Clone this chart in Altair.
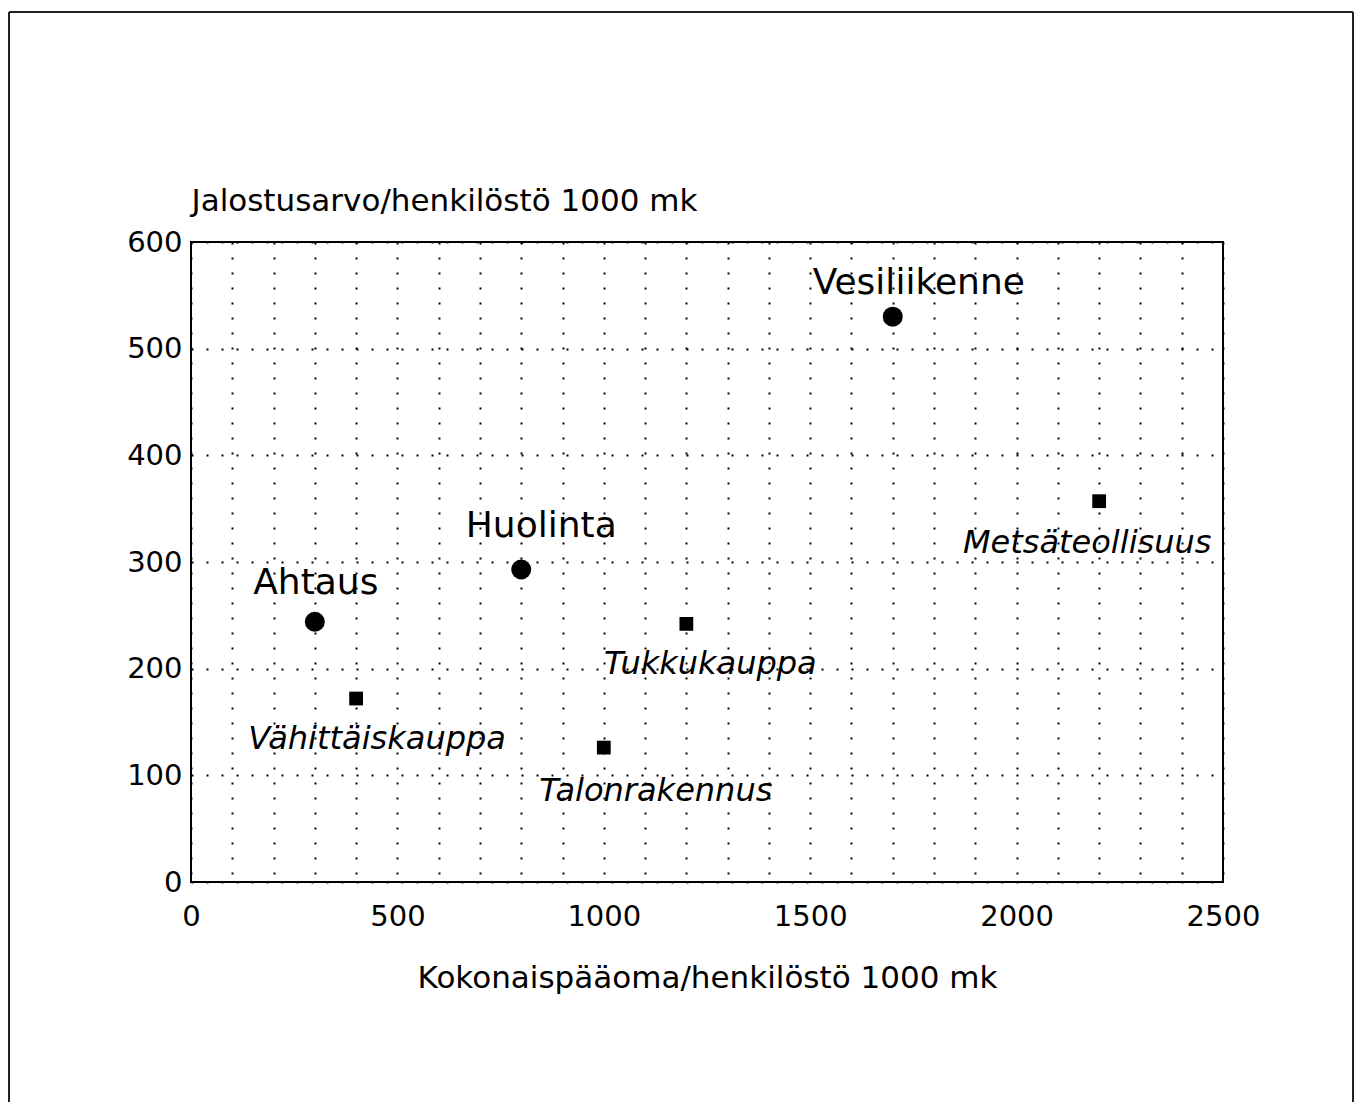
import altair as alt
import pandas as pd

# ---- data ----
NAMES = ["Ahtaus", "Huolinta", "Vesiliikenne",
         "Vähittäiskauppa", "Talonrakennus", "Tukkukauppa", "Metsäteollisuus"]
CAPITAL = [300, 800, 1700, 400, 1000, 1200, 2200]          # Kokonaispääoma/henkilöstö
VALUE_ADDED = [244, 293, 530, 172, 126, 242, 357]           # Jalostusarvo/henkilöstö
GROUP = ["circle", "circle", "circle", "square", "square", "square", "square"]

X_TICKS = list(range(0, 2501, 100))
X_LABELED = [0, 500, 1000, 1500, 2000, 2500]
Y_TICKS = [0, 100, 200, 300, 400, 500, 600]
X_TITLE = "Kokonaispääoma/henkilöstö 1000 mk"
Y_TITLE = "Jalostusarvo/henkilöstö 1000 mk"

df = pd.DataFrame({"name": NAMES, "capital": CAPITAL, "value": VALUE_ADDED, "group": GROUP})

# label placement (pixel offsets from the marker), style only
LABEL_STYLE = {
    "Ahtaus": (1, -28, "normal", 36),
    "Huolinta": (20, -32, "normal", 36),
    "Vesiliikenne": (26, -23, "normal", 36),
    "Vähittäiskauppa": (21, 50, "italic", 32),
    "Talonrakennus": (52, 53, "italic", 32),
    "Tukkukauppa": (24, 50, "italic", 32),
    "Metsäteollisuus": (-12, 52, "italic", 32),
}

FONT = "DejaVu Sans"
label_expr = "indexof([" + ",".join(str(v) for v in X_LABELED) + "], datum.value) >= 0 ? datum.label : ''"

x_enc = alt.X(
    "capital:Q",
    scale=alt.Scale(domain=[0, 2500], nice=False, zero=True),
    axis=alt.Axis(
        values=X_TICKS, format="d", labelExpr=label_expr,
        labelFlush=False, labelOverlap=False, labelPadding=20,
        title=X_TITLE, titleX=516, titleY=105, titleBaseline="alphabetic",
        titleFontSize=31, titleFont=FONT, titleFontWeight="normal", titleColor="black",
    ),
)
y_enc = alt.Y(
    "value:Q",
    scale=alt.Scale(domain=[0, 600], nice=False, zero=True),
    axis=alt.Axis(
        values=Y_TICKS, format="d", labelPadding=9,
        title=Y_TITLE, titleAngle=0, titleAlign="left", titleBaseline="alphabetic",
        titleX=0, titleY=-32, titleFontSize=31, titleFont=FONT,
        titleFontWeight="normal", titleColor="black",
    ),
)

base = alt.Chart(df).encode(x=x_enc, y=y_enc)

circles = base.transform_filter(alt.datum.group == "circle").mark_point(
    shape="circle", filled=True, size=400, color="black", opacity=1
)
squares = base.transform_filter(alt.datum.group == "square").mark_point(
    shape="square", filled=True, size=190, color="black", opacity=1
)

labels = []
for name in NAMES:
    dx, dy, style, fs = LABEL_STYLE[name]
    labels.append(
        base.transform_filter(alt.datum.name == name).mark_text(
            dx=dx, dy=dy, align="center", baseline="alphabetic",
            font=FONT, fontSize=fs, fontStyle=style, color="black"
        ).encode(text="name:N")
    )

# outer frame of the figure (left, top and right edges)
frame_data = alt.Data(values=[{"k": 1}])
frame_left = alt.Chart(frame_data).mark_rule(color="#222", strokeWidth=2).encode(
    x=alt.value(-182), y=alt.value(-230), y2=alt.value(900))
frame_top = alt.Chart(frame_data).mark_rule(color="#222", strokeWidth=2).encode(
    x=alt.value(-182), x2=alt.value(1162), y=alt.value(-230))
frame_right = alt.Chart(frame_data).mark_rule(color="#222", strokeWidth=2).encode(
    x=alt.value(1162), y=alt.value(-230), y2=alt.value(900))

chart = alt.layer(circles, squares, *labels, frame_left, frame_top, frame_right).properties(
    width=1032, height=640,
    autosize=alt.AutoSizeParams(type="none"),
    padding={"left": 183, "top": 234, "right": 131, "bottom": 220},
    background="white",
).configure_view(
    stroke="black", strokeWidth=2
).configure_axis(
    domain=False, ticks=False, grid=True, gridColor="black", gridOpacity=1,
    gridDash=[2, 13], gridWidth=2,
    labelFont=FONT, labelFontSize=29, labelColor="black",
)

chart.save("out.html", embed_options={"renderer": "svg", "actions": False})
